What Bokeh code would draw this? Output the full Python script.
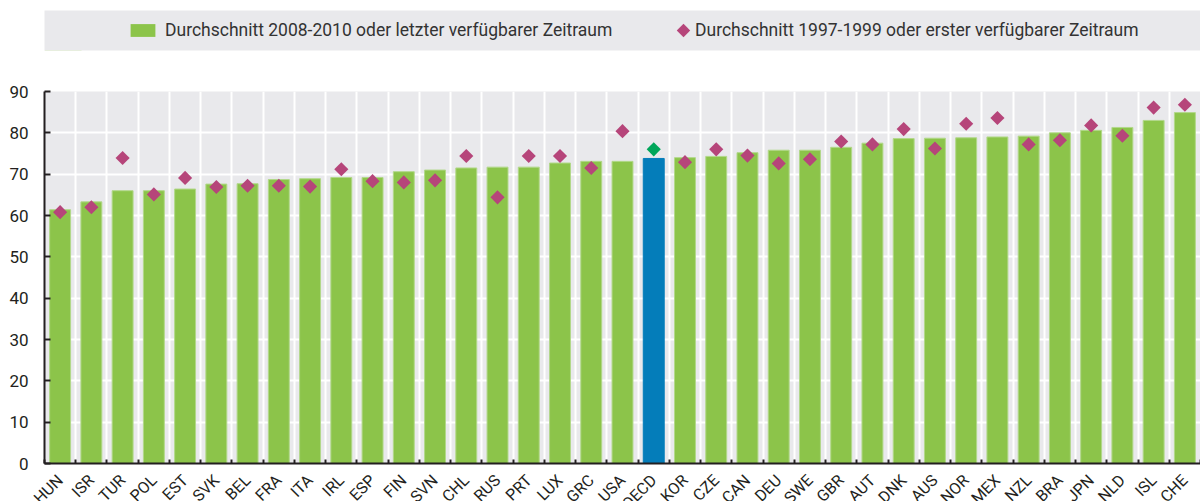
import math
import numpy as np
from bokeh.plotting import figure
from bokeh.models import (ColumnDataSource, Range1d, FixedTicker, Legend, LegendItem)
from bokeh.layouts import column, row
from bokeh.embed import file_html
from bokeh.resources import INLINE
from bokeh.core.properties import value

# ---------------- data ----------------
countries = ["HUN", "ISR", "TUR", "POL", "EST", "SVK", "BEL", "FRA", "ITA", "IRL",
             "ESP", "FIN", "SVN", "CHL", "RUS", "PRT", "LUX", "GRC", "USA", "OECD",
             "KOR", "CZE", "CAN", "DEU", "SWE", "GBR", "AUT", "DNK", "AUS", "NOR",
             "MEX", "NZL", "BRA", "JPN", "NLD", "ISL", "CHE"]
latest = [61.4, 63.3, 66.0, 66.0, 66.4, 67.6, 67.7, 68.7, 68.9, 69.2,
          69.2, 70.6, 71.0, 71.5, 71.7, 71.7, 72.7, 73.1, 73.1, 73.8,
          74.0, 74.3, 75.2, 75.8, 75.8, 76.5, 77.5, 78.6, 78.7, 78.8,
          79.0, 79.2, 80.0, 80.6, 81.3, 83.0, 84.9]
first = [60.8, 62.0, 73.9, 65.1, 69.1, 66.9, 67.2, 67.2, 67.0, 71.2,
         68.3, 68.0, 68.5, 74.4, 64.4, 74.4, 74.4, 71.5, 80.4, 76.0,
         72.9, 76.0, 74.5, 72.6, 73.6, 77.9, 77.2, 80.9, 76.2, 82.2,
         83.6, 77.2, 78.2, 81.8, 79.3, 86.1, 86.8]
y_ticks = [0, 10, 20, 30, 40, 50, 60, 70, 80, 90]
label_latest = "Durchschnitt 2008-2010 oder letzter verfügbarer Zeitraum"
label_first = "Durchschnitt 1997-1999 oder erster verfügbarer Zeitraum"
highlight = "OECD"

# ---------------- style ----------------
FONT = "Roboto"
GREEN = "#8cc44a"
GREEN_EDGE = "#b2d88a"
BLUE = "#047dba"
PINK = "#b6457a"
MGREEN = "#00a65a"
PANEL = "#e9e9ec"
INK = "#231f20"

W = 1200
LEFT = 44
n = len(countries)
px_per = (W - LEFT) / n

xc = np.arange(n) + 0.5
bar_colors = [BLUE if c == highlight else GREEN for c in countries]
edge_colors = [BLUE if c == highlight else GREEN_EDGE for c in countries]
mk_colors = [MGREEN if c == highlight else PINK for c in countries]

src = ColumnDataSource(dict(x=xc, country=countries, latest=latest, first=first,
                            bc=bar_colors, ec=edge_colors, mc=mk_colors))

# ---------------- legend strip (frame = grey legend band, 1 unit = 1 px) ----------------
leg = figure(width=W, height=52, output_backend="svg", toolbar_location=None,
             x_axis_location=None, y_axis_location=None,
             x_range=Range1d(0, W - LEFT), y_range=Range1d(1000, 1040),
             min_border_left=LEFT, min_border_right=0, min_border_top=10, min_border_bottom=2,
             background_fill_color=PANEL, outline_line_color=None, border_fill_color="white")
leg.xgrid.visible = False
leg.ygrid.visible = False
# renderers used only as legend keys (their data lie outside the visible range)
r_bar = leg.vbar(x="x", top="latest", bottom=0, width=0.5, source=src,
                 fill_color=GREEN, line_color=None)
r_pt = leg.scatter(x="x", y="first", source=src, marker="square", size=10,
                   fill_color=PINK, line_color=None)
# diamond key of the second entry
leg.scatter(x=[639], y=[1020], marker="square", angle=math.pi / 4, size=9.5,
            fill_color=PINK, line_color=None)
common = dict(orientation="horizontal", padding=0, margin=0, spacing=0,
              border_line_color=None, background_fill_alpha=0,
              label_text_font=FONT, label_text_font_size="17.5px", label_text_color="#333333")
l1 = Legend(items=[LegendItem(label=value(label_latest), renderers=[r_bar], index=0)],
            location=(83, 10), glyph_width=31, glyph_height=16, label_standoff=7, **common)
l2 = Legend(items=[LegendItem(label=value(label_first), renderers=[r_pt], index=0)],
            location=(651, 10), glyph_width=0, glyph_height=16, label_standoff=0, **common)
leg.add_layout(l1)
leg.add_layout(l2)

# ---------------- main chart ----------------
p = figure(width=W, height=421, output_backend="svg", toolbar_location=None,
           x_range=Range1d(0, n), y_range=Range1d(0, 90),
           min_border_left=LEFT, min_border_right=0, min_border_top=39, min_border_bottom=10,
           background_fill_color=PANEL, outline_line_color=None, border_fill_color="white")

boundaries = list(range(n + 1))
p.xgrid.ticker = FixedTicker(ticks=boundaries)
p.xgrid.grid_line_color = "white"
p.xgrid.grid_line_width = 2
p.ygrid.grid_line_color = "white"
p.ygrid.grid_line_width = 2

p.vbar(x="x", top="latest", bottom=0, width=0.67, source=src,
       fill_color="bc", line_color="ec", line_width=1)
p.scatter(x="x", y="first", source=src, marker="square", angle=math.pi / 4, size=10,
          fill_color="mc", line_color=None)

p.yaxis.ticker = FixedTicker(ticks=y_ticks)
p.yaxis.axis_line_color = INK
p.yaxis.axis_line_width = 2
p.yaxis.major_tick_in = 6
p.yaxis.major_tick_out = 0
p.yaxis.major_tick_line_width = 2
p.yaxis.major_tick_line_color = INK
p.yaxis.minor_tick_line_color = None
p.yaxis.major_label_text_font = FONT
p.yaxis.major_label_text_font_size = "17px"
p.yaxis.major_label_text_color = INK
p.yaxis.major_label_standoff = 16

p.xaxis.ticker = FixedTicker(ticks=[], minor_ticks=boundaries)
p.xaxis.axis_line_color = INK
p.xaxis.axis_line_width = 2
p.xaxis.major_tick_line_color = None
p.xaxis.major_label_standoff = 0
p.xaxis.minor_tick_in = 4
p.xaxis.minor_tick_out = 0
p.xaxis.minor_tick_line_width = 2
p.xaxis.minor_tick_line_color = INK

# ---------------- category label strip (same scale, frame spans full width) ----------------
lab = figure(width=W, height=28, output_backend="svg", toolbar_location=None,
             x_axis_location=None, y_axis_location=None,
             x_range=Range1d(-LEFT / px_per, n), y_range=Range1d(0, 28),
             min_border_left=0, min_border_right=0, min_border_top=0, min_border_bottom=0,
             background_fill_color="white", outline_line_color=None, border_fill_color="white")
lab.xgrid.visible = False
lab.ygrid.visible = False
lab.text(x="x", y=24, text="country", source=src, angle=math.pi / 4,
         text_align="right", text_baseline="middle",
         text_font=value(FONT), text_font_size="16px", text_color=INK)

layout = column(leg, p, row(lab), spacing=0)
open("out.html", "w").write(file_html(layout, INLINE))
